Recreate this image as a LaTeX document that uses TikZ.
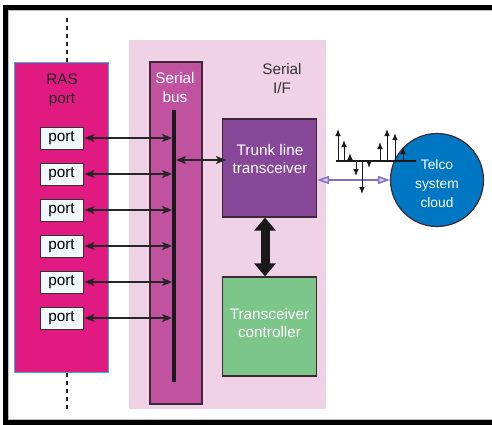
\documentclass[tikz,border=0pt]{standalone}
\usepackage{fontspec}
\setmainfont{Liberation Sans}
\usetikzlibrary{arrows.meta}
\definecolor{rasmag}{RGB}{224,26,128}
\definecolor{rascyan}{RGB}{41,182,232}
\definecolor{ifpink}{RGB}{240,210,230}
\definecolor{busmag}{RGB}{192,82,160}
\definecolor{trunkpur}{RGB}{136,72,154}
\definecolor{ctrlgreen}{RGB}{124,198,138}
\definecolor{cloudblue}{RGB}{0,119,194}
\definecolor{linkpur}{RGB}{128,112,192}
\definecolor{linkfill}{RGB}{210,210,242}
\definecolor{portfill}{RGB}{240,248,252}
\definecolor{edge}{RGB}{60,40,55}

\begin{document}
\begin{tikzpicture}[x=1pt, y=-1pt, every node/.style={font=\fontsize{15.3}{18.5}\selectfont, align=center, inner sep=0pt},
	blk/.style={draw=edge, line width=1.2pt, minimum width=94pt},
	portbox/.style={draw=black!80, fill=portfill, line width=1pt, minimum width=43pt, minimum height=22pt},
	biarr/.style={black!85, line width=1.2pt, {Stealth[length=10pt,width=8pt,inset=2.5pt]}-{Stealth[length=10pt,width=8pt,inset=2.5pt]}},
	sigarr/.style={black!90, line width=1pt, -{Latex[length=7pt,width=5.5pt]}}]
	\useasboundingbox (0,0) rectangle (492,425);
	% frame
	\draw[gray!50, line width=0.8pt] (492,10.8) -- (8.8,10.8) -- (8.8,419.2) -- (492,419.2);
	\draw[line width=5pt] (492,7.5) -- (5.5,7.5) -- (5.5,422.5) -- (492,422.5);

	% boxes
	\node[fill=ifpink, minimum width=197pt, minimum height=369pt] (serialif) at (227.5,224.5) {};
	\node[fill=rasmag, draw=rascyan, line width=1pt, minimum width=94pt, minimum height=309pt] (ras) at (61,217.5) {};
	\node[fill=busmag, draw=edge, line width=1.2pt, minimum width=52pt, minimum height=342pt] (bus) at (176,233) {};
	\node[blk, fill=trunkpur, minimum height=98pt] (trunk) at (269.5,168) {};
	\node[blk, fill=ctrlgreen, minimum height=99pt] (ctrl) at (269.5,326.5) {};
	\node[circle, fill=cloudblue, draw=edge, line width=1.2pt, minimum size=93pt] (cloud) at (437,180) {};

	% labels
	\node[text=black!85] (raslab) at (62,90) {RAS\\port};
	\node[text=white] (buslab) at (175,87.5) {Serial\\bus};
	\node[text=black!80] (iflab) at (282,78.5) {Serial\\I/F};
	\node[text=white] (trunklab) at (270,159) {Trunk line\\transceiver};
	\node[text=white] (ctrllab) at (269.5,323) {Transceiver\\controller};
	\node[text=white, font=\fontsize{13.8}{19}\selectfont] (cloudlab) at (437,184) {Telco\\system\\cloud};

	% dashed line through RAS port
	\coordinate (dtop) at (67,18);
	\coordinate (dbot) at (67,409);
	\draw[black!85, line width=1.2pt, dash pattern=on 4pt off 4pt] (dtop) -- (dtop |- ras.north);
	\draw[black!85, line width=1.2pt, dash pattern=on 4pt off 4pt] (ras.south -| dbot) -- (dbot);

	% bus line and ports
	\coordinate (bustop) at (174,110);
	\coordinate (busbot) at (174,382);
	\draw[line width=4pt, black!90] (bustop) -- (busbot);
	\foreach \i in {1,...,6} {
		\node[portbox] (p\i) at (61.5,{102+36*\i}) {port};
		\draw[biarr, shorten >=2pt, shorten <=1pt] (p\i.east) -- (p\i.east -| bustop);
	}
	\coordinate (tap) at (174,160);
	\draw[biarr, shorten <=2pt, shorten >=-4pt] (tap) -- (tap -| trunk.west);

	% transceiver <-> controller
	\draw[black!90, line width=9pt, {Triangle[length=13pt,width=21pt]}-{Triangle[length=13pt,width=21pt]}] ([xshift=-4.5pt]trunk.south) -- ([xshift=-4.5pt]ctrl.north);

	% line to the cloud
	\draw[linkpur, line width=1.5pt, {Triangle[open, fill=linkfill, length=12pt, width=8pt]}-{Triangle[open, fill=linkfill, length=12pt, width=8pt]}] ([yshift=-12pt]trunk.east) -- (cloud.west);

	% signal
	\coordinate (sig) at (336,161);
	\draw[black!90, line width=1.3pt] (sig) -- ++(80,0);
	\foreach \x/\y in {338/129, 344/140, 350/153, 356/176, 362/194, 369/168, 380/142, 387/129, 395/133, 403/147}
		\draw[sigarr] (\x,161) -- (\x,\y);
\end{tikzpicture}
\end{document}
